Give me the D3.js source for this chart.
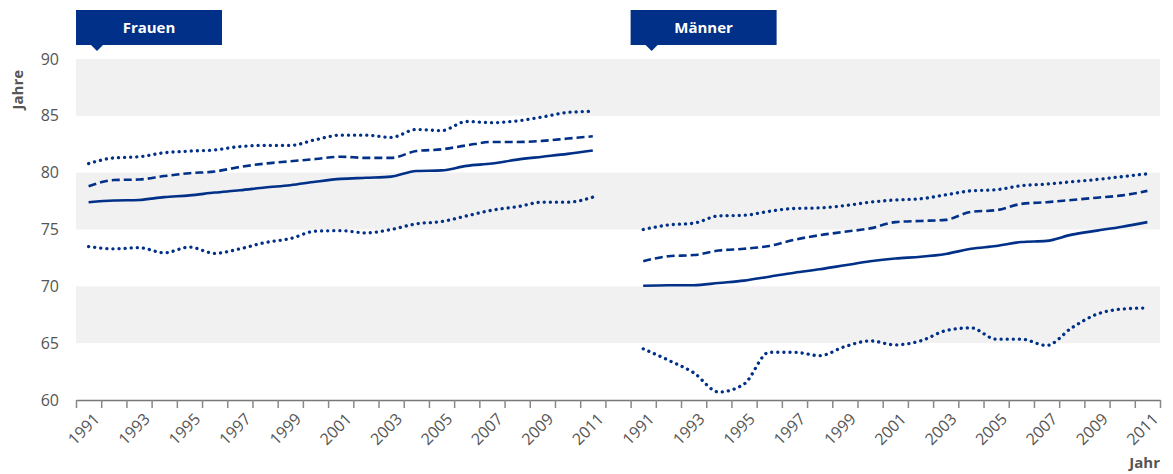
<!DOCTYPE html>
<html>
<head>
<meta charset="utf-8">
<script src="https://cdn.jsdelivr.net/npm/d3@7"></script>
<style>
  body { margin: 0; background: #fff; }
  svg { display: block; font-family: "Open Sans", sans-serif; }
</style>
</head>
<body>
<svg width="1173" height="474"></svg>
<script>
const years = d3.range(1991, 2012);
const groups = ["Frauen", "Männer"];
const yTicks = [60, 65, 70, 75, 80, 85, 90];
const shadeBands = [[85, 90], [75, 80], [65, 70]];

// Frauen
const frauenMean  = [77.4, 77.55, 77.6, 77.85, 78.0, 78.25, 78.45, 78.7, 78.9, 79.2, 79.45, 79.55, 79.65, 80.15, 80.2, 80.6, 80.8, 81.15, 81.4, 81.65, 81.95];
const frauenDash  = [78.8, 79.35, 79.4, 79.7, 79.95, 80.1, 80.5, 80.8, 81.0, 81.2, 81.4, 81.3, 81.3, 81.9, 82.05, 82.4, 82.7, 82.7, 82.8, 83.0, 83.2];
const frauenHigh  = [80.8, 81.3, 81.4, 81.75, 81.9, 82.0, 82.3, 82.4, 82.4, 82.9, 83.3, 83.3, 83.1, 83.8, 83.7, 84.5, 84.4, 84.55, 84.9, 85.3, 85.4];
const frauenLow   = [73.5, 73.3, 73.4, 72.95, 73.45, 72.9, 73.3, 73.85, 74.2, 74.85, 74.9, 74.7, 75.0, 75.5, 75.7, 76.2, 76.7, 77.0, 77.4, 77.4, 77.85];
// Männer
const maennerMean = [70.05, 70.1, 70.1, 70.3, 70.5, 70.85, 71.2, 71.5, 71.85, 72.2, 72.45, 72.6, 72.85, 73.3, 73.55, 73.9, 74.0, 74.55, 74.9, 75.25, 75.65];
const maennerDash = [72.2, 72.65, 72.75, 73.15, 73.3, 73.55, 74.1, 74.5, 74.8, 75.1, 75.65, 75.75, 75.85, 76.55, 76.7, 77.25, 77.4, 77.6, 77.8, 78.0, 78.4];
const maennerHigh = [75.0, 75.4, 75.55, 76.2, 76.25, 76.6, 76.85, 76.9, 77.1, 77.4, 77.6, 77.7, 78.05, 78.4, 78.5, 78.85, 79.0, 79.2, 79.4, 79.65, 79.9];
const maennerLow  = [64.5, 63.5, 62.4, 60.7, 61.4, 64.2, 64.2, 63.9, 64.7, 65.2, 64.85, 65.2, 66.1, 66.35, 65.35, 65.35, 64.8, 66.35, 67.55, 68.0, 68.1];

const series = [
  { group: "Frauen", style: "solid",  values: frauenMean },
  { group: "Frauen", style: "dashed", values: frauenDash },
  { group: "Frauen", style: "dotted", values: frauenHigh },
  { group: "Frauen", style: "dotted", values: frauenLow },
  { group: "Männer", style: "solid",  values: maennerMean },
  { group: "Männer", style: "dashed", values: maennerDash },
  { group: "Männer", style: "dotted", values: maennerHigh },
  { group: "Männer", style: "dotted", values: maennerLow }
];

const blue = "#003087";
const textGray = "#555";
const plotLeft = 76, plotRight = 1160, plotTop = 59, plotBottom = 400;

const svg = d3.select("svg");

// one band per year, plus an empty band between the two groups
const keys = [...years.map(yr => "F" + yr), "gap", ...years.map(yr => "M" + yr)];
const x = d3.scaleBand().domain(keys).range([plotLeft, plotRight]).paddingInner(0).paddingOuter(0);
const xLin = d3.scaleLinear().domain([0, keys.length]).range([plotLeft, plotRight]);
const y = d3.scaleLinear().domain([60, 90]).range([plotBottom, plotTop]);
const key = (g, yr) => (g === "Frauen" ? "F" : "M") + yr;
const cx = k => x(k) + x.bandwidth() / 2;

// shaded bands
svg.append("g").selectAll("rect")
  .data(shadeBands)
  .join("rect")
  .attr("x", plotLeft)
  .attr("width", plotRight - plotLeft)
  .attr("y", d => y(d[1]))
  .attr("height", d => y(d[0]) - y(d[1]))
  .attr("fill", "#f1f1f1");

// y labels
svg.append("g").selectAll("text")
  .data(yTicks)
  .join("text")
  .attr("x", 59)
  .attr("y", d => y(d))
  .attr("dy", "0.35em")
  .attr("text-anchor", "end")
  .attr("fill", textGray)
  .attr("font-size", 16)
  .text(d => d);

svg.append("text")
  .attr("transform", `translate(23,${y(87.3)}) rotate(-90)`)
  .attr("text-anchor", "middle")
  .attr("fill", textGray)
  .attr("font-size", 15)
  .attr("font-weight", "bold")
  .text("Jahre");

// x axis: ticks on band edges
const xAxis = svg.append("g")
  .attr("transform", `translate(0,${plotBottom})`)
  .call(d3.axisBottom(xLin).tickValues(d3.range(keys.length + 1)).tickFormat("").tickSize(8).tickSizeOuter(0));
xAxis.select(".domain").attr("stroke", "#777").attr("stroke-width", 1.5);
xAxis.selectAll(".tick line").attr("stroke", "#888").attr("stroke-width", 1.5);

const labelYears = years.filter(yr => yr % 2 === 1);
svg.append("g").selectAll("text")
  .data(groups.flatMap(g => labelYears.map(yr => ({ g, yr }))))
  .join("text")
  .attr("transform", d => `translate(${cx(key(d.g, d.yr)) + 12},${plotBottom + 20}) rotate(-45)`)
  .attr("text-anchor", "end")
  .attr("fill", textGray)
  .attr("font-size", 16)
  .text(d => d.yr);

svg.append("text")
  .attr("x", plotRight)
  .attr("y", 468)
  .attr("text-anchor", "end")
  .attr("fill", textGray)
  .attr("font-size", 15)
  .attr("font-weight", "bold")
  .text("Jahr");

// lines
const line = d3.line()
  .x(d => cx(d.k))
  .y(d => y(d.v))
  .curve(d3.curveMonotoneX);

const dash = { solid: null, dashed: "8,4", dotted: "0.1,6" };
const strokeW = { solid: 2.6, dashed: 2.6, dotted: 3.3 };

svg.append("g").selectAll("path")
  .data(series)
  .join("path")
  .attr("d", s => line(s.values.map((v, i) => ({ k: key(s.group, years[i]), v }))))
  .attr("fill", "none")
  .attr("stroke", blue)
  .attr("stroke-width", s => strokeW[s.style])
  .attr("stroke-dasharray", s => dash[s.style])
  .attr("stroke-linecap", s => s.style === "dotted" ? "round" : "butt");

// group headers
const header = svg.append("g").selectAll("g")
  .data(groups)
  .join("g")
  .attr("transform", g => `translate(${x(key(g, 1991))},10)`);

header.append("rect")
  .attr("width", 146)
  .attr("height", 35)
  .attr("fill", blue);

header.append("path")
  .attr("d", "M15,35 L21,41 L27,35 Z")
  .attr("fill", blue);

header.append("text")
  .attr("x", 73)
  .attr("y", 18)
  .attr("dy", "0.35em")
  .attr("text-anchor", "middle")
  .attr("fill", "#fff")
  .attr("font-size", 15)
  .attr("font-weight", "bold")
  .text(g => g);
</script>
</body>
</html>
